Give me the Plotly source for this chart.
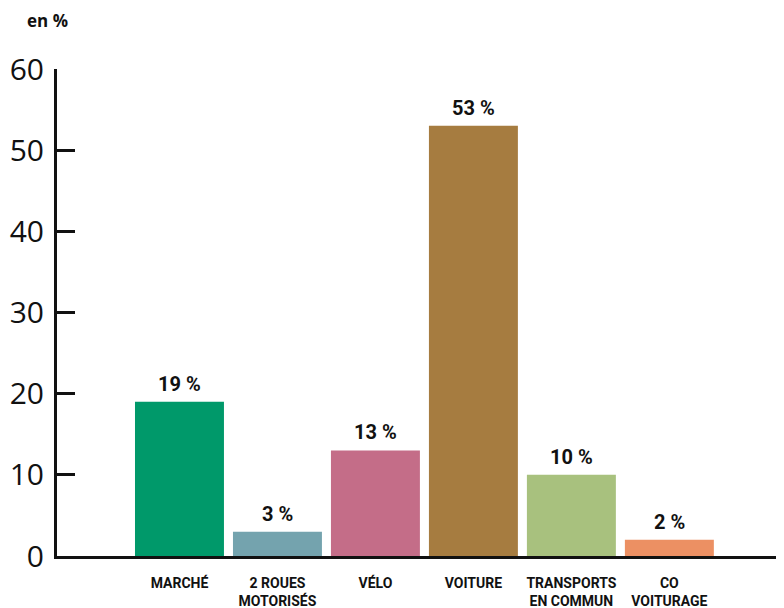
import plotly.graph_objects as go

categories = ["MARCHÉ", "2 ROUES<br>MOTORISÉS", "VÉLO", "VOITURE", "TRANSPORTS<br>EN COMMUN", "CO<br>VOITURAGE"]
values = [19, 3, 13, 53, 10, 2]
colors = ["#00996A", "#74A3AE", "#C46D88", "#A67C40", "#A8C17E", "#EC9063"]
y_ticks = [0, 10, 20, 30, 40, 50, 60]

fig = go.Figure()
fig.add_trace(go.Bar(
    x=categories, y=values,
    marker=dict(color=colors, line=dict(width=0)),
    hoverinfo="skip",
))

for c, v in zip(categories, values):
    fig.add_annotation(
        x=c, y=v, text=f"{v} %", showarrow=False,
        yanchor="bottom", yshift=4,
        font=dict(family="Roboto", size=20, color="#111111", weight="bold"),
    )

fig.add_annotation(
    xref="paper", yref="paper", x=-0.044, y=1.099,
    xanchor="left", yanchor="middle", showarrow=False,
    text="en %", font=dict(family="Open Sans", size=17, color="#111111", weight="bold"),
)

# the page body has an 8px margin, so the figure is sized to fit the window
fig.update_layout(
    width=776, height=600,
    margin=dict(l=49, r=0, t=61, b=52),
    paper_bgcolor="white", plot_bgcolor="white",
    showlegend=False, bargap=0.092,
    xaxis=dict(
        type="category", range=[-1.25, 6.17], automargin=False,
        showline=True, linecolor="#111111", linewidth=2.5,
        ticks="", showgrid=False, zeroline=False,
        tickfont=dict(family="Roboto", size=14, color="#111111", weight="bold"),
        ticklabelstandoff=12,
    ),
    yaxis=dict(
        range=[0, 60], tickvals=y_ticks, automargin=False,
        showline=True, linecolor="#111111", linewidth=3,
        ticks="inside", ticklen=18, tickwidth=2.5, tickcolor="#111111",
        showgrid=False, zeroline=False,
        tickfont=dict(family="Open Sans", size=30, color="#111111"),
        ticklabelstandoff=4,
    ),
)

fig.write_html("out.html")
